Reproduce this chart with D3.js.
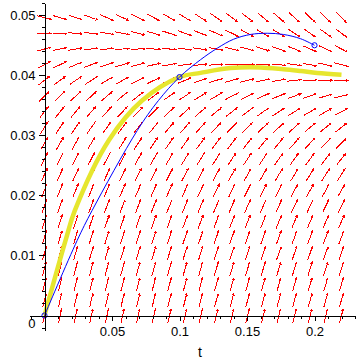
<!DOCTYPE html>
<html>
<head>
<meta charset="utf-8">
<script src="https://cdn.jsdelivr.net/npm/d3@7/dist/d3.min.js"></script>
<style>
  body { margin: 0; background: #fff; }
  svg { display: block; font-family: "Liberation Sans", Arial, sans-serif; }
</style>
</head>
<body>
<script>
// Exact solution (yellow)
const exactT = [0, 0.0156, 0.0225, 0.0477, 0.0723, 0.1, 0.1156, 0.1378, 0.16, 0.177, 0.19, 0.202, 0.22];
const exactY = [0, 0.0125, 0.0175, 0.0292, 0.0358, 0.0397, 0.0404, 0.0412, 0.0413, 0.0410, 0.0407, 0.0404, 0.0401];

// Approximation (blue)
const approxT = [0, 0.0242, 0.0353, 0.0687, 0.0844, 0.1, 0.1156, 0.1279, 0.14, 0.1526, 0.165, 0.177, 0.1896, 0.2];
const approxY = [0, 0.0125, 0.0175, 0.0308, 0.0358, 0.0397, 0.0426, 0.0445, 0.0460, 0.0468, 0.0470, 0.0468, 0.0461, 0.0450];

// Step points marked with circles
const stepT = [0, 0.1, 0.2];
const stepY = [0, 0.0397, 0.0450];

// Direction field: dy/dt = rate * (level - y) - drift * t
const rate = 22, level = 0.047, drift = 0.79;
const fieldN = 20, fieldTMax = 0.22, fieldYMax = 0.0496;

const xTicks = [0.05, 0.1, 0.15, 0.2];
const yTicks = [0, 0.01, 0.02, 0.03, 0.04, 0.05];
const xTitle = "t";

const width = 362, height = 362;

const x = d3.scaleLinear().domain([-0.011, 0.23]).range([44.5 - 0.011 * 1350, 44.5 + 0.23 * 1350]);
const y = d3.scaleLinear().domain([-0.0025, 0.052]).range([315.5 + 0.0025 * 6005, 315.5 - 0.052 * 6005]);

const svg = d3.select("body").append("svg")
    .attr("width", width)
    .attr("height", height);

function slope(t, v) {
  return rate * (level - v) - drift * t;
}

// Direction field -------------------------------------------------
const tGrid = d3.range(fieldN).map(i => i * fieldTMax / (fieldN - 1));
const yGrid = d3.range(fieldN).map(j => j * fieldYMax / (fieldN - 1));
const cells = [];
tGrid.forEach(t => yGrid.forEach(v => cells.push({t, v})));

const kx = x(1) - x(0), ky = y(0) - y(1);
const arrowLen = 15, headLen = 3, headW = 1.4;

const fieldG = svg.append("g")
    .attr("stroke", "#ff0000")
    .attr("fill", "#ff0000")
    .attr("shape-rendering", "crispEdges");

fieldG.selectAll("g.arrow")
  .data(cells)
  .enter()
  .append("g")
    .attr("class", "arrow")
  .each(function(d) {
    let vx = kx, vy = -slope(d.t, d.v) * ky;
    const n = Math.hypot(vx, vy);
    const ux = vx / n, uy = vy / n;
    const cx = x(d.t), cy = y(d.v);
    const x0 = cx - ux * arrowLen / 2, y0 = cy - uy * arrowLen / 2;
    const x1 = cx + ux * arrowLen / 2, y1 = cy + uy * arrowLen / 2;
    const bx = x1 - ux * headLen, by = y1 - uy * headLen;
    const g = d3.select(this);
    g.append("line")
        .attr("x1", x0).attr("y1", y0)
        .attr("x2", bx).attr("y2", by)
        .attr("stroke-width", 1);
    g.append("path")
        .attr("stroke", "none")
        .attr("d", `M${x1},${y1}L${bx - uy * headW},${by + ux * headW}L${bx + uy * headW},${by - ux * headW}Z`);
  });

// Curves ----------------------------------------------------------
const line = d3.line()
    .x(d => x(d[0]))
    .y(d => y(d[1]))
    .curve(d3.curveCatmullRom);

svg.append("path")
    .datum(d3.zip(exactT, exactY))
    .attr("d", line)
    .attr("fill", "none")
    .attr("stroke", "#e6e62e")
    .attr("stroke-width", 4.5);

svg.append("path")
    .datum(d3.zip(approxT, approxY))
    .attr("d", line)
    .attr("fill", "none")
    .attr("stroke", "#0000ff")
    .attr("stroke-width", 1);

svg.selectAll("circle.step")
  .data(d3.zip(stepT, stepY))
  .enter()
  .append("circle")
    .attr("class", "step")
    .attr("cx", d => x(d[0]))
    .attr("cy", d => y(d[1]))
    .attr("r", 2.6)
    .attr("fill", "none")
    .attr("stroke", "#0000ff")
    .attr("stroke-width", 1);

// Axes ------------------------------------------------------------
const xMinor = d3.range(-1, 24).map(i => i / 100);
const yMinor = d3.range(-1, 27).map(i => i / 500);

const xAxisG = svg.append("g").attr("transform", `translate(0,${y(0)})`);
xAxisG.append("g").call(d3.axisBottom(x).tickValues(xMinor).tickSize(3).tickSizeOuter(0).tickFormat(""));
xAxisG.append("g").call(d3.axisBottom(x).tickValues(xTicks).tickSize(5).tickSizeOuter(0).tickPadding(6).tickFormat(d3.format("")));

const yAxisG = svg.append("g").attr("transform", `translate(${x(0)},0)`);
yAxisG.append("g").call(d3.axisLeft(y).tickValues(yMinor).tickSize(3).tickSizeOuter(0).tickFormat(""));
yAxisG.append("g").call(d3.axisLeft(y).tickValues(yTicks).tickSize(6).tickSizeOuter(0).tickPadding(3).tickFormat(d3.format("")));

svg.selectAll(".domain, .tick line").attr("stroke", "#000").attr("shape-rendering", "crispEdges");
svg.selectAll(".tick text")
    .attr("fill", "#000")
    .style("font-size", "13px")
    .style("font-family", "'Liberation Sans', Arial, sans-serif");

// the origin label sits just below the t axis
yAxisG.selectAll(".tick text").filter(d => d === 0).attr("dy", "0.95em");

svg.append("text")
    .attr("x", 200)
    .attr("y", 357)
    .attr("text-anchor", "middle")
    .style("font-size", "14px")
    .text(xTitle);
</script>
</body>
</html>
